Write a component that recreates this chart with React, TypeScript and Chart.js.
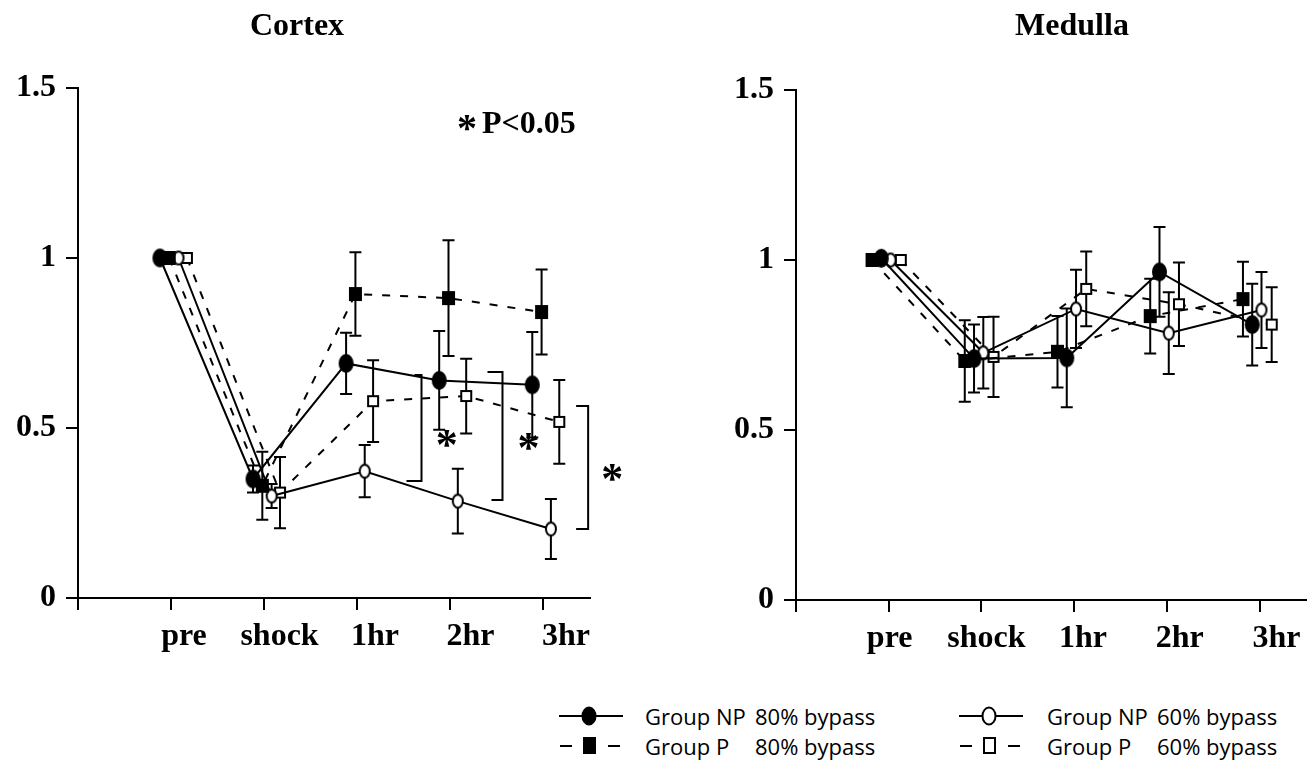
import React, { useEffect, useRef } from "react";
import { Chart, registerables } from "chart.js";

Chart.register(...registerables);

// ---------- data ----------
const categories = ["pre", "shock", "1hr", "2hr", "3hr"];
const yTickValues = [0, 0.5, 1, 1.5];
const seriesNames = [
  "Group NP 80% bypass",
  "Group P 80% bypass",
  "Group NP 60% bypass",
  "Group P 60% bypass",
];

// Cortex (mean, error)
const cortexNP80 = [1.0, 0.35, 0.69, 0.64, 0.627];
const cortexNP80Err = [0, 0.04, 0.09, 0.145, 0.155];
const cortexP80 = [1.0, 0.33, 0.894, 0.882, 0.841];
const cortexP80Err = [0, 0.1, 0.123, 0.17, 0.125];
const cortexNP60 = [1.0, 0.3, 0.373, 0.285, 0.203];
const cortexNP60Err = [0, 0.035, 0.077, 0.095, 0.088];
const cortexP60 = [1.0, 0.31, 0.579, 0.594, 0.518];
const cortexP60Err = [0, 0.105, 0.12, 0.11, 0.123];

// Medulla (mean, error)
const medullaNP80 = [1.005, 0.71, 0.712, 0.965, 0.81];
const medullaNP80Err = [0, 0.1, 0.145, 0.132, 0.12];
const medullaP80 = [1.0, 0.703, 0.73, 0.835, 0.885];
const medullaP80Err = [0, 0.12, 0.105, 0.11, 0.11];
const medullaNP60 = [1.0, 0.727, 0.856, 0.785, 0.853];
const medullaNP60Err = [0, 0.105, 0.115, 0.12, 0.112];
const medullaP60 = [1.0, 0.715, 0.915, 0.87, 0.81];
const medullaP60Err = [0, 0.118, 0.11, 0.123, 0.11];

// Cortex significance brackets (data coordinates)
const bracketX = [3.69, 4.56, 5.48];
const bracketTop = [0.656, 0.665, 0.565];
const bracketBottom = [0.344, 0.288, 0.203];
const starX = [3.96, 4.84, 5.74];
const starY = [0.47, 0.46, 0.37];

// ---------- styles ----------
const SERIF = '"Liberation Serif", "Times New Roman", serif';
const SANS = '"Open Sans", "Noto Sans", sans-serif';
const bracketArmTop = [7, 15, 12];
const bracketArmBottom = [15, 11, 12];

const seriesStyles = [
  { dash: [] as number[], shape: "ellipse", w: 15, h: 19, filled: true },
  { dash: [8, 10], shape: "rect", w: 13, h: 14, filled: true },
  { dash: [] as number[], shape: "ellipse", w: 12, h: 15, filled: false },
  { dash: [8, 10], shape: "rect", w: 12, h: 12, filled: false },
];

function makeMarker(shape: string, w: number, h: number, filled: boolean) {
  const c = document.createElement("canvas");
  const pad = 2;
  c.width = w + pad * 2;
  c.height = h + pad * 2;
  const ctx = c.getContext("2d")!;
  ctx.lineWidth = 2;
  ctx.fillStyle = filled ? "#000" : "#fff";
  ctx.strokeStyle = "#000";
  ctx.beginPath();
  if (shape === "ellipse") {
    ctx.ellipse(c.width / 2, c.height / 2, w / 2 - 1, h / 2 - 1, 0, 0, Math.PI * 2);
  } else {
    ctx.rect(pad + 1, pad + 1, w - 2, h - 2);
  }
  ctx.fill();
  ctx.stroke();
  return c;
}

const errorBarPlugin = {
  id: "errorBars",
  beforeDatasetsDraw(chart: any) {
    const ctx = chart.ctx;
    const ys = chart.scales.y;
    chart.data.datasets.forEach((ds: any, i: number) => {
      const meta = chart.getDatasetMeta(i);
      const errs: number[] = ds.errors;
      if (!errs) return;
      ctx.save();
      ctx.strokeStyle = "#000";
      ctx.lineWidth = 2;
      meta.data.forEach((pt: any, j: number) => {
        const e = errs[j];
        if (!e) return;
        const v = ds.data[j].y;
        const yt = ys.getPixelForValue(v + e);
        const yb = ys.getPixelForValue(v - e);
        const x = pt.x;
        ctx.beginPath();
        ctx.moveTo(x, yt);
        ctx.lineTo(x, yb);
        ctx.moveTo(x - 6, yt);
        ctx.lineTo(x + 6, yt);
        ctx.moveTo(x - 6, yb);
        ctx.lineTo(x + 6, yb);
        ctx.stroke();
      });
      ctx.restore();
    });
  },
};

function drawStar(ctx: CanvasRenderingContext2D, x: number, y: number, size: number) {
  ctx.font = `bold ${size}px ${SERIF}`;
  ctx.textAlign = "center";
  ctx.textBaseline = "alphabetic";
  const m = ctx.measureText("*");
  ctx.fillText("*", x, y + (m.actualBoundingBoxAscent - m.actualBoundingBoxDescent) / 2);
}

const annotPlugin = {
  id: "annot",
  afterDraw(chart: any, _args: any, opts: any) {
    const ctx: CanvasRenderingContext2D = chart.ctx;
    const xs = chart.scales.x;
    const ys = chart.scales.y;
    ctx.save();
    ctx.fillStyle = "#000";
    ctx.strokeStyle = "#000";
    ctx.font = `bold 32px ${SERIF}`;
    ctx.textAlign = "center";
    ctx.textBaseline = "alphabetic";
    ctx.fillText(opts.title, opts.titleX, opts.titleY);
    if (opts.brackets) {
      ctx.lineWidth = 2;
      bracketX.forEach((bx, k) => {
        const x = xs.getPixelForValue(bx);
        const yt = ys.getPixelForValue(bracketTop[k]);
        const yb = ys.getPixelForValue(bracketBottom[k]);
        ctx.beginPath();
        ctx.moveTo(x - bracketArmTop[k], yt);
        ctx.lineTo(x, yt);
        ctx.lineTo(x, yb);
        ctx.lineTo(x - bracketArmBottom[k], yb);
        ctx.stroke();
      });
      starX.forEach((sx, k) => {
        drawStar(ctx, xs.getPixelForValue(sx), ys.getPixelForValue(starY[k]), 44);
      });
      // note
      drawStar(ctx, 467, 123, 40);
      ctx.font = `bold 32px ${SERIF}`;
      ctx.textAlign = "left";
      ctx.textBaseline = "alphabetic";
      ctx.fillText("P<0.05", 482, 133);
    }
    ctx.restore();
  },
};

type Panel = {
  title: string;
  titleX: number;
  titleY: number;
  series: number[][];
  errors: number[][];
  offsets: number[];
  labelMin: number;
  labelMax: number;
  yAxisWidth: number;
  padRight: number;
  padTop: number;
  brackets: boolean;
};

const cortexPanel: Panel = {
  title: "Cortex",
  titleX: 297,
  titleY: 35,
  series: [cortexNP80, cortexP80, cortexNP60, cortexP60],
  errors: [cortexNP80Err, cortexP80Err, cortexNP60Err, cortexP60Err],
  offsets: [-0.12, -0.02, 0.08, 0.17],
  labelMin: -0.11,
  labelMax: 5.251,
  yAxisWidth: 78,
  padRight: 60,
  padTop: 88,
  brackets: true,
};

const medullaPanel: Panel = {
  title: "Medulla",
  titleX: 422,
  titleY: 33,
  series: [medullaNP80, medullaP80, medullaNP60, medullaP60],
  errors: [medullaNP80Err, medullaP80Err, medullaNP60Err, medullaP60Err],
  offsets: [-0.08, -0.18, 0.02, 0.13],
  labelMin: 0.031,
  labelMax: 5.306,
  yAxisWidth: 146,
  padRight: 3,
  padTop: 88,
  brackets: false,
};

function makeConfig(panel: Panel): any {
  const markers = seriesStyles.map((s) => makeMarker(s.shape, s.w, s.h, s.filled));
  const axisGrid = {
    display: true,
    drawOnChartArea: false,
    drawTicks: true,
    tickLength: 12,
    color: "#000",
    lineWidth: 2,
  };
  const axisBorder = { display: true, color: "#000", width: 2 };
  return {
    type: "line",
    data: {
      datasets: panel.series.map((vals, s) => ({
        label: seriesNames[s],
        data: vals.map((v, i) => ({ x: i + 1 + panel.offsets[s], y: v })),
        errors: panel.errors[s],
        borderColor: "#000",
        backgroundColor: "#000",
        borderWidth: 2,
        borderDash: seriesStyles[s].dash,
        pointStyle: markers[s],
        pointRadius: 8,
        pointHoverRadius: 8,
        fill: false,
        tension: 0,
      })),
    },
    options: {
      responsive: false,
      animation: false,
      devicePixelRatio: 1,
      events: [],
      layout: { padding: { top: panel.padTop, right: panel.padRight, left: 0, bottom: 0 } },
      plugins: {
        legend: { display: false },
        tooltip: { enabled: false },
        title: { display: false },
        annot: {
          title: panel.title,
          titleX: panel.titleX,
          titleY: panel.titleY,
          brackets: panel.brackets,
        },
      },
      scales: {
        x: {
          type: "linear",
          position: "bottom",
          min: 0,
          max: 5.5,
          afterBuildTicks: (a: any) => {
            a.ticks = [0, 1, 2, 3, 4, 5].map((v) => ({ value: v }));
          },
          ticks: { display: false },
          grid: axisGrid,
          border: axisBorder,
          afterFit: (s: any) => {
            s.height = 12;
          },
        },
        xl: {
          type: "linear",
          position: "bottom",
          weight: 1,
          min: panel.labelMin,
          max: panel.labelMax,
          afterBuildTicks: (a: any) => {
            a.ticks = categories.map((_, i) => ({ value: i + 1 }));
          },
          ticks: {
            callback: (v: any) => categories[Math.round(v) - 1],
            font: { family: SERIF, size: 32, weight: "bold" },
            color: "#000",
            padding: 8,
            maxRotation: 0,
            autoSkip: false,
          },
          grid: { display: false, drawTicks: false },
          border: { display: false },
          afterFit: (s: any) => {
            s.height = 70;
          },
        },
        y: {
          type: "linear",
          position: "left",
          min: 0,
          max: 1.5,
          afterBuildTicks: (a: any) => {
            a.ticks = yTickValues.map((v) => ({ value: v }));
          },
          ticks: {
            callback: (v: any) => String(v),
            font: { family: SERIF, size: 32, weight: "bold" },
            color: "#000",
            padding: 10,
          },
          grid: axisGrid,
          border: axisBorder,
          afterFit: (s: any) => {
            s.width = panel.yAxisWidth;
          },
        },
      },
    },
    plugins: [errorBarPlugin, annotPlugin],
  };
}

function PanelChart(props: { panel: Panel; left: number; top: number; width: number; height: number }) {
  const ref = useRef<HTMLCanvasElement>(null);
  useEffect(() => {
    const chart = new Chart(ref.current!, makeConfig(props.panel));
    return () => chart.destroy();
  }, []);
  return (
    <div style={{ position: "absolute", left: props.left, top: props.top, width: props.width, height: props.height }}>
      <canvas
        ref={ref}
        width={props.width}
        height={props.height}
        style={{ width: props.width, height: props.height, display: "block" }}
      />
    </div>
  );
}

function LegendSymbol(props: { shape: string; filled: boolean; dashed: boolean }) {
  const { shape, filled, dashed } = props;
  return (
    <svg width={70} height={26} style={{ display: "block" }}>
      {dashed ? (
        <g stroke="#000" strokeWidth={2}>
          <line x1={4} y1={13} x2={16} y2={13} />
          <line x1={52} y1={13} x2={64} y2={13} />
        </g>
      ) : (
        <line x1={3} y1={13} x2={67} y2={13} stroke="#000" strokeWidth={2} />
      )}
      {shape === "ellipse" ? (
        <ellipse cx={33} cy={13} rx={6.5} ry={8.5} fill={filled ? "#000" : "#fff"} stroke="#000" strokeWidth={2} />
      ) : (
        <rect x={28} y={5} width={11} height={15} fill={filled ? "#000" : "#fff"} stroke="#000" strokeWidth={2} />
      )}
    </svg>
  );
}

const legendRows = [
  { s: 0, col: 0, row: 0, group: "Group NP", pct: "80% bypass" },
  { s: 1, col: 0, row: 1, group: "Group P", pct: "80% bypass" },
  { s: 2, col: 1, row: 0, group: "Group NP", pct: "60% bypass" },
  { s: 3, col: 1, row: 1, group: "Group P", pct: "60% bypass" },
];

export default function App() {
  const colSym = [556, 956];
  const colText = [645, 1047];
  const rowY = [703, 733];
  return (
    <div style={{ position: "fixed", left: 0, top: 0, width: 1316, height: 760, background: "#fff", overflow: "hidden" }}>
      <PanelChart panel={cortexPanel} left={0} top={0} width={650} height={680} />
      <PanelChart panel={medullaPanel} left={650} top={2} width={666} height={680} />
      {legendRows.map((r) => {
        const st = seriesStyles[r.s];
        return (
          <React.Fragment key={r.s}>
            <div style={{ position: "absolute", left: colSym[r.col], top: rowY[r.row] }}>
              <LegendSymbol shape={st.shape} filled={st.filled} dashed={st.dash.length > 0} />
            </div>
            <div
              style={{
                position: "absolute",
                left: colText[r.col],
                top: rowY[r.row],
                height: 26,
                lineHeight: "26px",
                fontFamily: SANS,
                fontSize: 22,
                color: "#000",
                whiteSpace: "nowrap",
              }}
            >
              <span style={{ display: "inline-block", width: 110 }}>{r.group}</span>
              <span>{r.pct}</span>
            </div>
          </React.Fragment>
        );
      })}
    </div>
  );
}
